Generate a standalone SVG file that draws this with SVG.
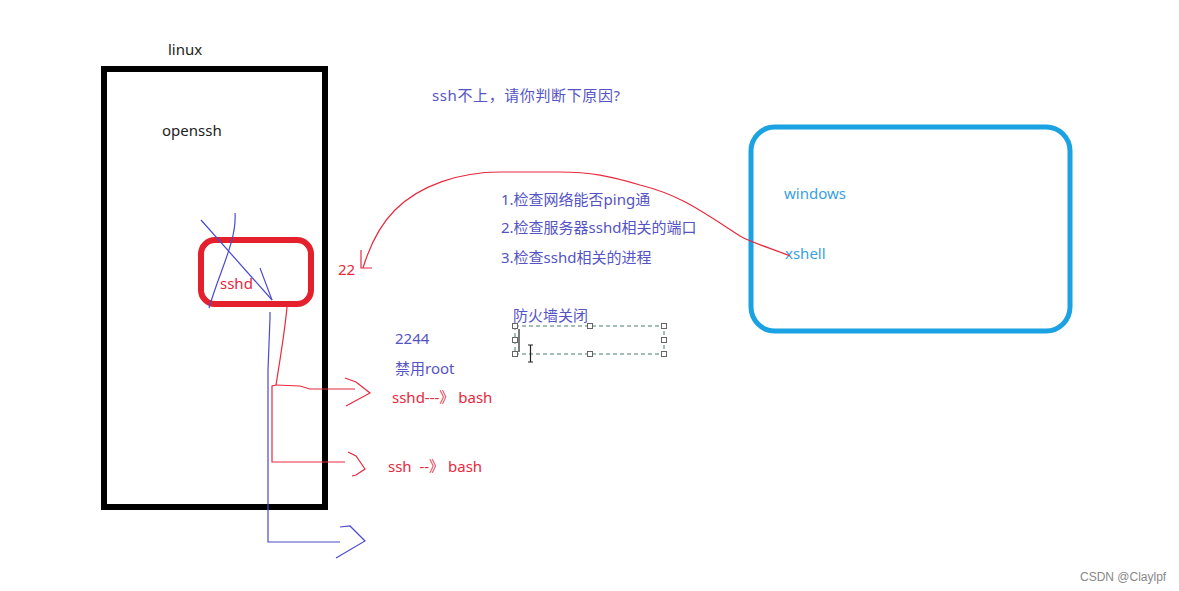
<svg xmlns="http://www.w3.org/2000/svg" width="1179" height="591" viewBox="0 0 1179 591">
<style>
text{font-family:"Noto Sans","Noto Sans CJK SC",sans-serif;font-size:15px;white-space:pre}
.blk{fill:#222}
.pur{fill:#5454c4}
.red{fill:#e8283c}
.sky{fill:#3a9fe0}
.rl{fill:none;stroke:#e8283c;stroke-width:1.2}
.bl{fill:none;stroke:#4a4ad0;stroke-width:1.2}
.h{fill:#fff;stroke:#666;stroke-width:1}
</style>
<rect width="1179" height="591" fill="#fff"/>
<g id="linux">
<text x="168" y="55" class="blk">linux</text>
<rect x="104" y="69" width="221" height="438" fill="none" stroke="#000" stroke-width="6"/>
<text x="162" y="136" class="blk">openssh</text>
</g>
<g id="sshd">
<rect x="201" y="240" width="110" height="64" rx="14" fill="none" stroke="#e3202c" stroke-width="6"/>
<text x="220" y="289" class="red">sshd</text>
</g>
<g id="windows">
<rect x="751" y="127" width="319" height="204" rx="24" fill="none" stroke="#1aa2e2" stroke-width="5"/>
<text x="784" y="199" class="sky">windows</text>
<text x="785" y="259" class="sky">xshell</text>
</g>
<g id="texts">
<text x="432" y="101" class="pur" textLength="188">ssh不上，请你判断下原因?</text>
<text x="501" y="205" class="pur">1.检查网络能否ping通</text>
<text x="501" y="233" class="pur">2.检查服务器sshd相关的端口</text>
<text x="501" y="263" class="pur">3.检查sshd相关的进程</text>
<text x="338" y="275" class="red">22</text>
<text x="513" y="321" class="pur">防火墙关闭</text>
<text x="395" y="344" class="pur">2244</text>
<text x="395" y="374" class="pur">禁用root</text>
<text x="392" y="403" class="red">sshd---》 bash</text>
<text x="388" y="472" class="red" xml:space="preserve">ssh  --》 bash</text>
<text x="1080" y="581" style="font-family:'Liberation Sans',sans-serif;font-size:12px;fill:#888">CSDN @Claylpf</text>
</g>
<g id="selection">
<rect x="515" y="326" width="149" height="28" fill="none" stroke="#4a7a70" stroke-width="1" stroke-dasharray="4,3"/>
<rect x="512.5" y="323.5" width="5" height="5" class="h"/>
<rect x="587.5" y="323.5" width="5" height="5" class="h"/>
<rect x="661.5" y="323.5" width="5" height="5" class="h"/>
<rect x="512.5" y="337.5" width="5" height="5" class="h"/>
<rect x="661.5" y="337.5" width="5" height="5" class="h"/>
<rect x="512.5" y="351.5" width="5" height="5" class="h"/>
<rect x="587.5" y="351.5" width="5" height="5" class="h"/>
<rect x="661.5" y="351.5" width="5" height="5" class="h"/>
<line x1="519" y1="329" x2="519" y2="352" stroke="#222" stroke-width="1.2"/>
<path d="M528 345h5M530.5 345v17M528 362h5" fill="none" stroke="#222" stroke-width="1.2"/>
</g>
<g id="connectors">
<path class="rl" d="M790 256 C770 248 750 242 740 236 C700 210 680 195 640 185 C610 176 590 172 560 172 L500 172 C460 172 420 185 395 210 C380 225 370 245 363 268"/>
<path class="rl" d="M361 250 L361 268 L372 268"/>
<path class="rl" d="M287 307 C285 330 280 360 276 385 L272 386 L272 462 L345 462"/>
<path class="rl" d="M276 385 L300 386 L310 389 L355 389"/>
<path class="rl" d="M345 378 L356 382 L370 393 L346 406"/>
<path class="rl" d="M348 452 L356 456 L365 469 L356 475 L352 476"/>
<path class="bl" d="M270 312 L270 318 L268 370 L268 542 L340 542"/>
<path class="bl" d="M340 527 L350 526 L365 541 L336 558"/>
<path class="bl" d="M201 220 L272 300"/>
<path class="bl" d="M235 213 C237 240 220 270 209 308"/>
<path class="bl" d="M260 268 L272 300"/>
</g>
</svg>
